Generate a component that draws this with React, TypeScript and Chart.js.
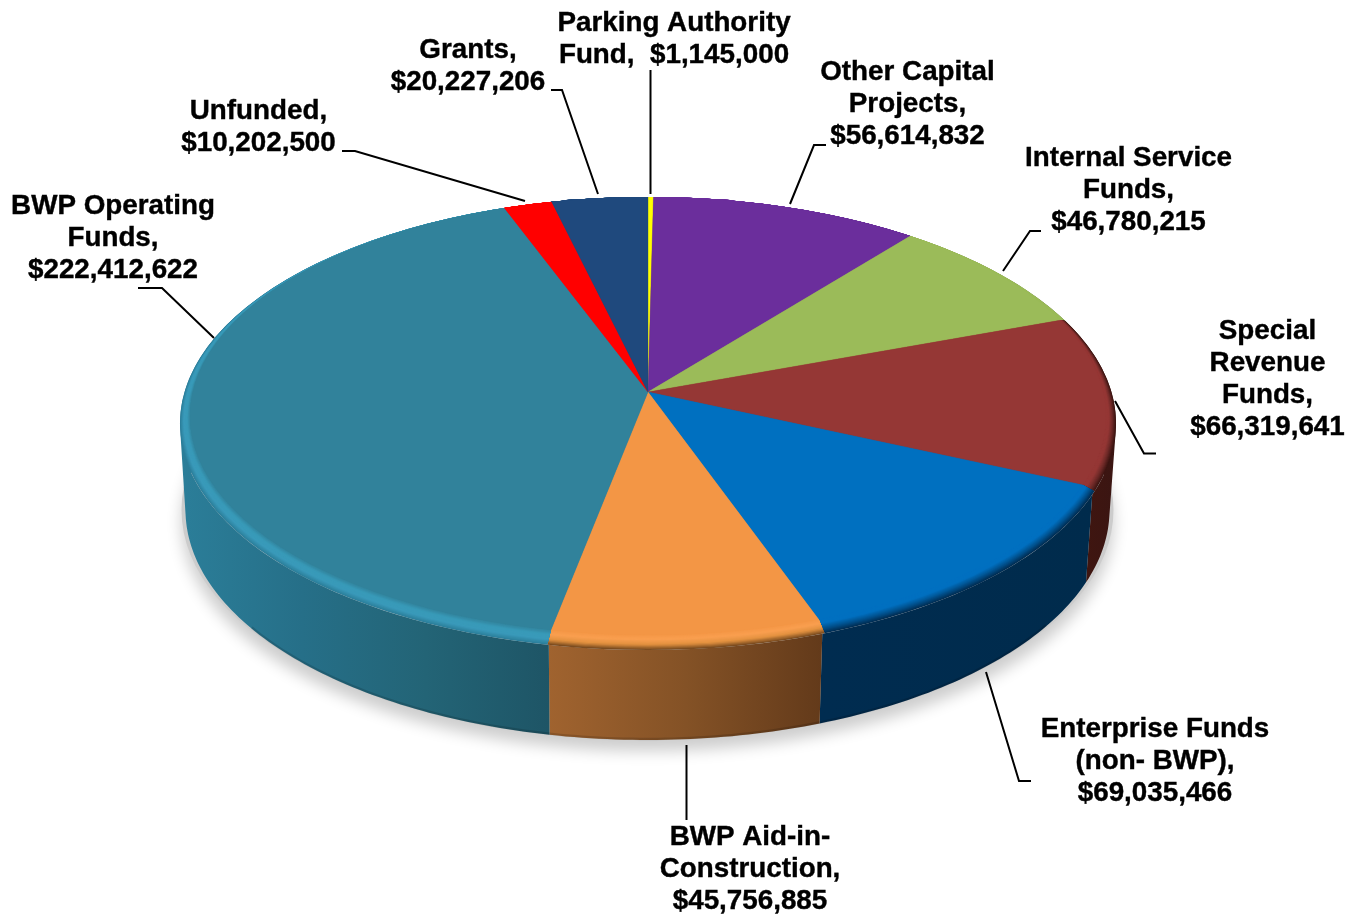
import React, { useEffect, useRef } from "react";
import { Chart, registerables } from "chart.js";

Chart.register(...registerables);

// ---- data (clockwise from 12 o'clock) ----
const categories = [
  "Parking Authority Fund",
  "Other Capital Projects",
  "Internal Service Funds",
  "Special Revenue Funds",
  "Enterprise Funds (non- BWP)",
  "BWP Aid-in-Construction",
  "BWP Operating Funds",
  "Unfunded",
  "Grants",
];
const amounts = [1145000, 56614832, 46780215, 66319641, 69035466, 45756885, 222412622, 10202500, 20227206];
const labelLines = [
  ["Parking Authority", "Fund,  $1,145,000"],
  ["Other Capital", "Projects,", "$56,614,832"],
  ["Internal Service", "Funds,", "$46,780,215"],
  ["Special", "Revenue", "Funds,", "$66,319,641"],
  ["Enterprise Funds", "(non- BWP),", "$69,035,466"],
  ["BWP Aid-in-", "Construction,", "$45,756,885"],
  ["BWP Operating", "Funds,", "$222,412,622"],
  ["Unfunded,", "$10,202,500"],
  ["Grants,", "$20,227,206"],
];

// ---- styles and layout ----
const faceColors = ["#ffff00", "#6b2e9c", "#9bbb59", "#953735", "#0070c0", "#f39645", "#31829b", "#ff0000", "#1f497d"];
const wallStops: string[][] = [
  ["#808000", "#808000"],
  ["#35174e", "#35174e"],
  ["#4e5e2c", "#4e5e2c"],
  ["#42160f", "#3a1512"],
  ["#002c50", "#002b4c"],
  ["#a0632f", "#845226", "#633a1a"],
  ["#2b7e99", "#266f88", "#236476", "#1e5566"],
  ["#800000", "#800000"],
  ["#10253f", "#10253f"],
];
// colours across the bevel: outer rim -> inner face
const bevelStops: string[][] = [
  ["#ffff00", "#ffff00"],
  ["#6b2e9c", "#6b2e9c"],
  ["#9bbb59", "#9bbb59"],
  ["#3d1512", "#6f2a28", "#953735", "#953735"],
  ["#002e54", "#00528f", "#0070c0", "#0070c0"],
  ["#7b4c20", "#e2913f", "#fa9f50", "#f39645"],
  ["#2c7f9b", "#3a9aba", "#389ab8", "#31829b"],
  ["#ff0000", "#ff0000"],
  ["#1f497d", "#1f497d"],
];
const topRim = { cx: 648, cy: 423.5, rx: 468, ry: 226.5 };
const innerFace = { cx: 648, cy: 416, rx: 458, ry: 219 };
const baseRim = { cx: 647.5, cy: 510, rx: 462, ry: 230 };
const tilt = 0.475;
const leaders: number[][][] = [
  [[650.5, 70], [650.5, 194]],
  [[790, 204], [814, 145], [826, 145]],
  [[1003, 271], [1030, 231], [1041, 231]],
  [[1115, 401], [1144, 453.5], [1156, 453.5]],
  [[986, 672], [1019, 781], [1031, 781]],
  [[686.5, 745], [686.5, 820]],
  [[214, 338], [162, 288], [138, 288]],
  [[525, 201], [355, 151], [342, 151]],
  [[598, 194], [562, 90], [551, 90]],
];
const labelAnchors: number[][] = [
  [674, 31], [907.5, 80], [1128.5, 166], [1267.5, 339], [1155, 737], [750, 845], [113, 214], [258.5, 119], [468, 58],
];
const lineStep = 32;

const hexToRgb = (h: string) => [1, 3, 5].map((i) => parseInt(h.slice(i, i + 2), 16));
function mixStops(stops: string[], p: number) {
  const s = p * (stops.length - 1);
  const i = Math.min(Math.floor(s), stops.length - 2);
  const f = s - i;
  const a = hexToRgb(stops[i]);
  const b = hexToRgb(stops[i + 1]);
  return `rgb(${a.map((v, n) => Math.round(v + (b[n] - v) * f)).join(",")})`;
}
type Rim = { cx: number; cy: number; rx: number; ry: number };
function ellipsePath(ctx: CanvasRenderingContext2D, e: Rim) {
  ctx.beginPath();
  ctx.ellipse(e.cx, e.cy, e.rx, e.ry, 0, 0, Math.PI * 2);
}
// unit-circle position where a slice ray leaves the flat inner face
function rayHit(x0: number, y0: number, a: number) {
  const dx = Math.cos(a);
  const dy = tilt * Math.sin(a);
  const ox = (x0 - innerFace.cx) / innerFace.rx;
  const oy = (y0 - innerFace.cy) / innerFace.ry;
  const ux = dx / innerFace.rx;
  const uy = dy / innerFace.ry;
  const A = ux * ux + uy * uy;
  const B = 2 * (ox * ux + oy * uy);
  const C = ox * ox + oy * oy - 1;
  const t = (-B + Math.sqrt(B * B - 4 * A * C)) / (2 * A);
  return [ox + ux * t, oy + uy * t];
}
const onRim = (e: Rim, p: number[], f = 1) => [e.cx + e.rx * p[0] * f, e.cy + e.ry * p[1] * f];
function sliceHits(arc: any) {
  const { x, y, startAngle, endAngle } = arc.getProps(["x", "y", "startAngle", "endAngle"], true);
  const n = Math.max(4, Math.ceil((endAngle - startAngle) * 60));
  const hits: number[][] = [];
  for (let s = 0; s <= n; s++) hits.push(rayHit(x, y, startAngle + ((endAngle - startAngle) * s) / n));
  return { x, y, hits };
}

const pie3d = {
  id: "pie3d",
  beforeDatasetsDraw(chart: any) {
    const ctx: CanvasRenderingContext2D = chart.ctx;
    const arcs = chart.getDatasetMeta(0).data;
    // ground shadow
    ctx.save();
    ctx.shadowColor = "rgba(0,0,0,0.2)";
    ctx.shadowBlur = 15;
    ctx.shadowOffsetY = 12;
    ctx.fillStyle = "#ccc";
    ellipsePath(ctx, { ...baseRim, rx: baseRim.rx + 4, ry: baseRim.ry - 1 });
    ctx.fill();
    ctx.restore();
    // side wall, slice by slice: one path of same-wound quads, filled once so no seams show
    arcs.forEach((arc: any, i: number) => {
      const { hits } = sliceHits(arc);
      const xs = hits.map((p) => onRim(topRim, p)[0]);
      const g = ctx.createLinearGradient(Math.min(...xs), 0, Math.max(...xs) + 0.01, 0);
      wallStops[i].forEach((c, k) => g.addColorStop(k / (wallStops[i].length - 1), c));
      ctx.fillStyle = g;
      ctx.beginPath();
      for (let k = 0; k < hits.length - 1; k++) {
        let quad = [
          onRim(topRim, hits[k]),
          onRim(topRim, hits[k + 1]),
          onRim(baseRim, hits[k + 1]),
          onRim(baseRim, hits[k]),
        ];
        let area = 0;
        quad.forEach((p, j) => {
          const q = quad[(j + 1) % 4];
          area += p[0] * q[1] - q[0] * p[1];
        });
        if (area < 0) quad = quad.reverse();
        ctx.moveTo(quad[0][0], quad[0][1]);
        for (let j = 1; j < 4; j++) ctx.lineTo(quad[j][0], quad[j][1]);
        ctx.closePath();
      }
      ctx.fill();
      // darker lip along the lower front edge
      ctx.strokeStyle = "rgba(0,0,0,0.14)";
      ctx.lineWidth = 2.5;
      ctx.beginPath();
      let started = false;
      hits.forEach((p) => {
        if (p[1] < 0.5) return;
        const q = onRim({ ...baseRim, rx: baseRim.rx - 1, ry: baseRim.ry - 1 }, p);
        if (!started) ctx.moveTo(q[0], q[1]);
        else ctx.lineTo(q[0], q[1]);
        started = true;
      });
      ctx.stroke();
    });
    // bevel between the wall and the flat face
    const layers = 14;
    arcs.forEach((arc: any, i: number) => {
      const { x, y, hits } = sliceHits(arc);
      ctx.save();
      ctx.beginPath();
      ctx.moveTo(x, y);
      const first = onRim(innerFace, hits[0]);
      ctx.lineTo(first[0], first[1]);
      hits.forEach((p) => {
        const q = onRim(topRim, p, 1.03);
        ctx.lineTo(q[0], q[1]);
      });
      const last = onRim(innerFace, hits[hits.length - 1]);
      ctx.lineTo(last[0], last[1]);
      ctx.closePath();
      ctx.clip();
      for (let l = 0; l <= layers; l++) {
        const p = l / layers;
        ellipsePath(ctx, {
          cx: topRim.cx,
          cy: topRim.cy + (innerFace.cy - topRim.cy) * p,
          rx: topRim.rx + (innerFace.rx - topRim.rx) * p,
          ry: topRim.ry + (innerFace.ry - topRim.ry) * p,
        });
        ctx.fillStyle = mixStops(bevelStops[i], p);
        ctx.fill();
      }
      ctx.restore();
    });
    // flat face: the pie's own arcs, tilted about their centre and cut to the inner ellipse
    const { x, y } = arcs[0].getProps(["x", "y"], true);
    ctx.save();
    ellipsePath(ctx, innerFace);
    ctx.clip();
    ctx.translate(x, y);
    ctx.scale(1, tilt);
    ctx.translate(-x, -y);
  },
  afterDatasetsDraw(chart: any) {
    const ctx: CanvasRenderingContext2D = chart.ctx;
    ctx.restore();
    ctx.save();
    ctx.strokeStyle = "#000";
    ctx.lineWidth = 2;
    leaders.forEach((pts) => {
      ctx.beginPath();
      pts.forEach((p, k) => (k === 0 ? ctx.moveTo(p[0], p[1]) : ctx.lineTo(p[0], p[1])));
      ctx.stroke();
    });
    ctx.fillStyle = "#000";
    ctx.lineWidth = 0.4;
    ctx.font = 'bold 27.8px "Liberation Sans", Arial, sans-serif';
    ctx.textAlign = "center";
    ctx.textBaseline = "alphabetic";
    labelLines.forEach((lines, i) => {
      lines.forEach((t, k) => {
        ctx.fillText(t, labelAnchors[i][0], labelAnchors[i][1] + k * lineStep);
        ctx.strokeText(t, labelAnchors[i][0], labelAnchors[i][1] + k * lineStep);
      });
    });
    ctx.restore();
  },
};

export default function App() {
  const ref = useRef<HTMLCanvasElement | null>(null);
  useEffect(() => {
    if (!ref.current) return;
    const chart = new Chart(ref.current, {
      type: "pie",
      data: {
        labels: categories,
        datasets: [
          {
            data: amounts,
            backgroundColor: faceColors,
            borderColor: faceColors,
            borderWidth: 0.5,
            clip: false,
          } as any,
        ],
      },
      options: {
        responsive: false,
        animation: false,
        radius: 620,
        layout: { padding: { left: 0, top: 0, right: 64, bottom: 134 } },
        plugins: { legend: { display: false }, tooltip: { enabled: false } },
      } as any,
      plugins: [pie3d],
    });
    return () => chart.destroy();
  }, []);
  return (
    <canvas
      ref={ref}
      width={1360}
      height={918}
      style={{ position: "absolute", left: 0, top: 0, width: 1360, height: 918, background: "#fff" }}
    />
  );
}
